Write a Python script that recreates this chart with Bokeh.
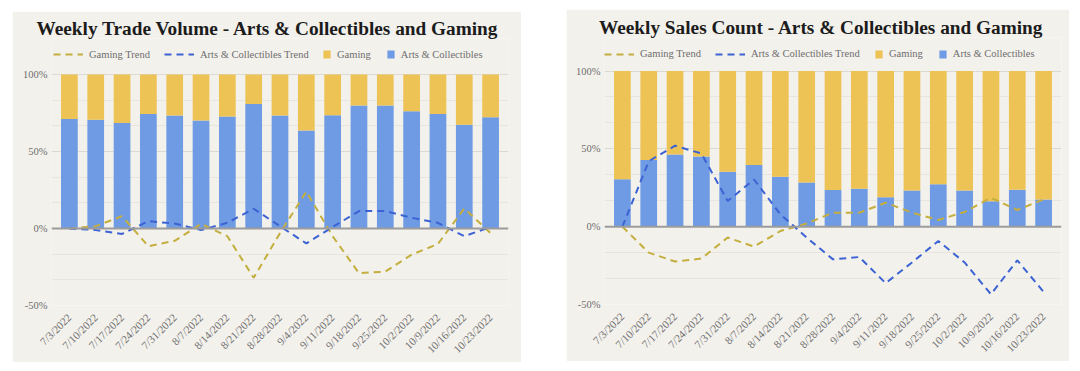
import math
from bokeh.plotting import figure
from bokeh.models import (Range1d, FixedTicker, PrintfTickFormatter, Span, Legend,
                          LegendItem, Spacer, ColumnDataSource)
from bokeh.layouts import row, column
from bokeh.embed import file_html
from bokeh.resources import INLINE

# ---------------- data ----------------
weeks = ["7/3/2022", "7/10/2022", "7/17/2022", "7/24/2022", "7/31/2022", "8/7/2022",
         "8/14/2022", "8/21/2022", "8/28/2022", "9/4/2022", "9/11/2022", "9/18/2022",
         "9/25/2022", "10/2/2022", "10/9/2022", "10/16/2022", "10/23/2022"]

# Weekly Trade Volume (share in %)
vol_arts = [71.1, 70.6, 68.5, 74.4, 73.3, 70.2, 72.8, 80.9, 73.3, 63.7, 73.5, 79.8, 79.8, 76.1, 74.4, 67.4, 72.2]
vol_gaming = [28.9, 29.4, 31.5, 25.6, 26.7, 29.8, 27.2, 19.1, 26.7, 36.3, 26.5, 20.2, 20.2, 23.9, 25.6, 32.6, 27.8]
vol_gaming_trend = [0, 1.5, 8, -11.5, -8, 3, -5, -32, -3, 24, -5, -29, -28, -17, -10, 13, -3]
vol_arts_trend = [0, -1, -3.5, 4.8, 3.2, -1, 3.7, 12.8, 1.5, -9.7, 1, 11.3, 11.3, 7, 3.7, -5, 1]

# Weekly Sales Count (share in %)
cnt_arts = [30.4, 42.8, 46.3, 45.0, 35.2, 39.6, 32.0, 28.3, 23.5, 24.3, 18.9, 23.3, 27.2, 23.3, 16.3, 23.7, 17.4]
cnt_gaming = [69.6, 57.2, 53.7, 55.0, 64.8, 60.4, 68.0, 71.7, 76.5, 75.7, 81.1, 76.7, 72.8, 76.7, 83.7, 76.3, 82.6]
cnt_gaming_trend = [0, -16.7, -22.4, -20.5, -7, -12.8, -2.8, 2, 9, 9, 15.4, 9, 4.3, 9.4, 18.6, 10.7, 17.5]
cnt_arts_trend = [0, 42, 52, 47, 16.5, 30.3, 8, -7, -21, -19.5, -36.3, -23, -9.2, -23, -43.4, -21.6, -41.9]

titles = ["Weekly Trade Volume - Arts & Collectibles and Gaming",
          "Weekly Sales Count - Arts & Collectibles and Gaming"]
y_ticks = [-50, 0, 50, 100]

# ---------------- style ----------------
FONT = "Liberation Serif"
BG = "#F3F1EC"
GOLD = "#EEC355"
BLUE = "#6E9BE4"
GOLD_TREND = "#C4AE3E"
BLUE_TREND = "#3C63D4"
TXT = "#6E6E6E"


def make_panel(title, arts, gaming, arts_trend, gaming_trend, bl, br, bt, bb, fh,
               pad_px, data_px, title_offset, leg_y, leg1_x, leg2_x):
    y_top = y_ticks[-1] + pad_px * (y_ticks[-1] - y_ticks[0]) / data_px
    p = figure(frame_width=457, frame_height=fh, min_border_left=bl, min_border_right=br,
               min_border_top=bt, min_border_bottom=bb, title=title,
               x_range=Range1d(-0.68, 16.68), y_range=Range1d(y_ticks[0], y_top),
               output_backend="svg", toolbar_location=None,
               background_fill_color=BG, border_fill_color=BG, outline_line_color=None)
    p.title.align = "left"
    p.title.offset = title_offset
    p.title.standoff = 0
    p.title.text_font = FONT
    p.title.text_font_style = "bold"
    p.title.text_font_size = "19.3px"
    p.title.text_color = "#1C1C1C"

    xs = list(range(len(weeks)))
    src = ColumnDataSource(dict(x=xs, arts=arts, gaming=gaming,
                                at=arts_trend, gt=gaming_trend))

    minors = [m + k * 50 / 3 for m in y_ticks[:-1] for k in (1, 2)]
    p.xgrid.grid_line_color = None
    p.ygrid.ticker = FixedTicker(ticks=y_ticks, minor_ticks=minors)
    p.ygrid.grid_line_color = "#DCD9D2"
    p.ygrid.minor_grid_line_color = "#E8E5DF"

    bars = p.vbar_stack(["arts", "gaming"], x="x", width=0.635, source=src,
                        fill_color=[BLUE, GOLD], line_color=None)

    p.add_layout(Span(location=0, dimension="width", line_color="#9C9C9C", line_width=2))

    r_gt = p.line("x", "gt", source=src, line_color=GOLD_TREND, line_width=2, line_dash="7 5")
    r_at = p.line("x", "at", source=src, line_color=BLUE_TREND, line_width=2, line_dash="7 5")

    # axes
    p.yaxis.ticker = FixedTicker(ticks=y_ticks)
    p.yaxis.formatter = PrintfTickFormatter(format="%d%%")
    p.xaxis.ticker = FixedTicker(ticks=xs)
    p.xaxis.major_label_overrides = {i: w for i, w in enumerate(weeks)}
    p.xaxis.major_label_orientation = math.pi / 4
    for ax in (p.xaxis, p.yaxis):
        ax.axis_line_color = None
        ax.major_tick_line_color = None
        ax.minor_tick_line_color = None
        ax.major_tick_out = 0
        ax.major_tick_in = 0
        ax.major_label_text_font = FONT
        ax.major_label_text_color = TXT
        ax.major_label_text_font_size = "10.5px"
    p.xaxis.major_label_text_font_size = "11px"
    p.yaxis.major_label_standoff = 4
    p.xaxis.major_label_standoff = 10

    common = dict(orientation="horizontal", padding=0, margin=0, background_fill_alpha=0,
                  border_line_color=None, label_text_font=FONT, label_text_font_size="10.5px",
                  label_text_color=TXT, label_height=12, label_standoff=6)
    leg1 = Legend(items=[LegendItem(label="Gaming Trend", renderers=[r_gt]),
                         LegendItem(label="Arts & Collectibles Trend", renderers=[r_at])],
                  location=(leg1_x, leg_y), glyph_width=30, glyph_height=12, spacing=14, **common)
    leg2 = Legend(items=[LegendItem(label="Gaming", renderers=[bars[1]]),
                         LegendItem(label="Arts & Collectibles", renderers=[bars[0]])],
                  location=(leg2_x, leg_y), glyph_width=9, glyph_height=10, spacing=15, **common)
    p.add_layout(leg1)
    p.add_layout(leg2)
    return p


p1 = make_panel(titles[0], vol_arts, vol_gaming, vol_arts_trend, vol_gaming_trend,
                bl=39, br=13, bt=27, bb=54, fh=267, pad_px=36, data_px=231,
                title_offset=-15, leg_y=245, leg1_x=2, leg2_x=271)
p2 = make_panel(titles[1], cnt_arts, cnt_gaming, cnt_arts_trend, cnt_gaming_trend,
                bl=38, br=8, bt=28, bb=55, fh=267, pad_px=33.5, data_px=233.5,
                title_offset=-5.5, leg_y=244.5, leg1_x=0, leg2_x=270)

layout = row(Spacer(width=12),
             column(Spacer(height=11), p1),
             Spacer(width=45),
             column(Spacer(height=9), p2))

open("out.html", "w").write(file_html(layout, INLINE))
